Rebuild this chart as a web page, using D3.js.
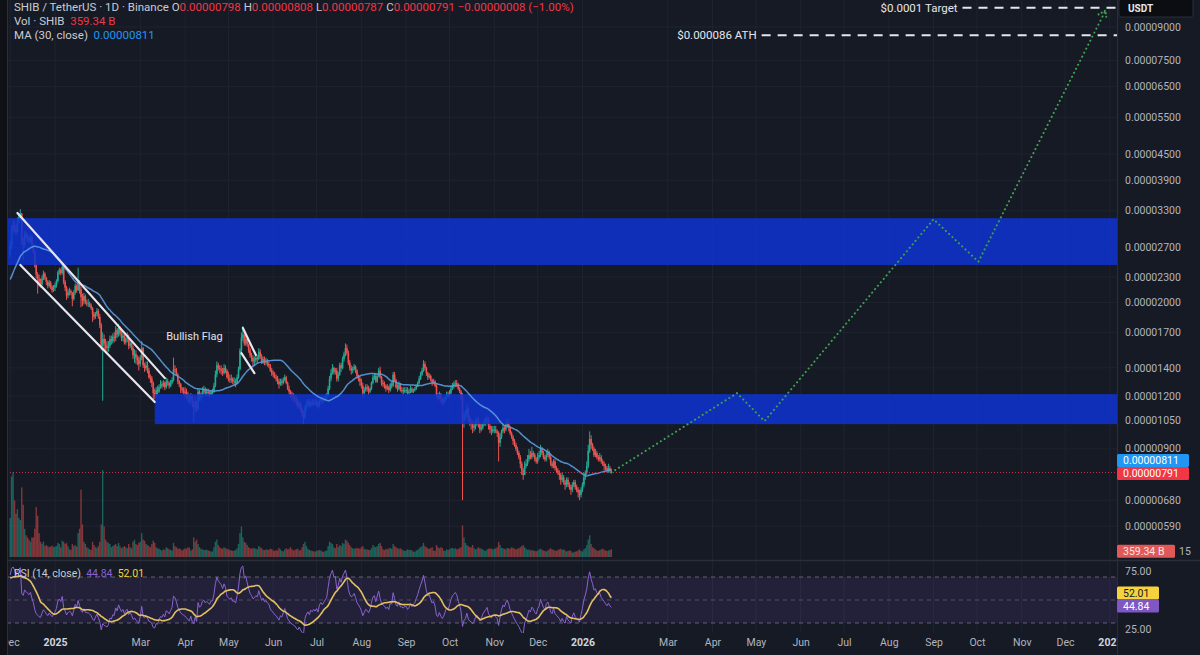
<!DOCTYPE html>
<html>
<head>
<meta charset="utf-8">
<script src="https://cdn.jsdelivr.net/npm/d3@7/dist/d3.min.js"></script>
<style>
html,body{margin:0;padding:0;background:#161a25;overflow:hidden;}
svg{display:block;font-family:Roboto,"Noto Sans",Arial,sans-serif;}
</style>
</head>
<body>
<svg id="chart" width="1200" height="655"></svg>
<script>
// ---------------- DATA (prices in units of 0.00000001 USDT, volume in billions) ----------------
const startDate = "2024-12-01";
// November 2024 closes (off-screen look-back for MA/RSI)
const warmupCloses = [1730,1700,1660,1640,1710,1860,1850,1900,2040,1980,2380,2550,2430,2380,2400,2420,2380,2360,2390,2420,2370,2450,2630,2560,2480,2390,2450,2440,2500,2600];

const closes = [
 2720,2980,3050,3010,2940,3120,3180,3250,2780,2740,2900,2870,2830,2800,2860,2740,2640,2450,2330,2280,2230,2210,2280,2340,2290,2240,2190,2230,2180,2140,2170,
 2200,2250,2360,2390,2350,2430,2240,2170,2080,2110,2130,2110,2040,2110,2190,2140,2240,2150,2060,2020,2070,2000,1990,1990,1970,1940,1880,1850,1880,1910,1850,
 1770,1580,1640,1600,1580,1560,1580,1640,1620,1660,1650,1720,1680,1740,1690,1650,1670,1610,1640,1650,1580,1600,1560,1500,1510,1480,1460,1430,
 1480,1560,1420,1400,1420,1380,1330,1320,1290,1220,1210,1240,1230,1260,1280,1270,1290,1260,1300,1290,1270,1290,1310,1390,1380,1350,1300,1280,1250,1240,1230,
 1220,1210,1190,1180,1200,1150,1130,1160,1120,1230,1190,1200,1230,1240,1220,1230,1220,1210,1230,1230,1270,1350,1420,1400,1390,1380,1360,1400,1380,1330,
 1320,1310,1320,1300,1300,1290,1330,1390,1540,1650,1680,1600,1640,1590,1540,1500,1480,1450,1460,1480,1470,1530,1490,1450,1470,1440,1450,1430,1420,1380,1360,
 1350,1330,1320,1300,1280,1300,1290,1310,1330,1290,1250,1230,1210,1200,1190,1180,1160,1140,1150,1120,1090,1070,1130,1150,1160,1140,1160,1150,1160,1150,
 1160,1140,1170,1180,1170,1180,1190,1200,1250,1320,1360,1400,1370,1380,1320,1350,1420,1400,1470,1510,1560,1520,1440,1400,1380,1390,1410,1380,1340,1320,1300,
 1270,1220,1240,1260,1250,1230,1250,1290,1330,1340,1300,1340,1380,1330,1290,1280,1270,1250,1260,1240,1280,1270,1350,1310,1260,1250,1280,1240,1240,1230,1240,
 1240,1220,1230,1250,1230,1240,1250,1270,1290,1320,1350,1380,1430,1400,1360,1330,1340,1310,1290,1300,1270,1200,1190,1210,1180,1160,1170,1190,1210,1200,
 1220,1250,1270,1280,1290,1280,1250,1230,1190,1050,1080,1090,1120,1060,1040,1030,1010,1020,1040,1050,1030,1000,1010,1030,1040,1050,1060,1020,1000,990,1000,
 1000,990,980,930,960,990,1010,1000,1020,1030,1010,980,960,940,920,900,880,860,830,800,780,820,830,850,870,860,880,870,850,840,
 860,870,900,880,860,850,870,880,860,830,820,840,810,800,790,780,760,770,750,740,760,740,730,720,740,750,730,720,710,700,720,
 740,770,790,820,890,950,920,900,870,880,860,850,860,840,830,820,810,800,810,798,791
];
const highs = [
 2800,3050,3150,3120,3060,3180,3260,3330,3260,2850,2960,2950,2910,2880,2900,2880,2760,2660,2480,2360,2330,2280,2320,2380,2360,2300,2260,2260,2250,2200,2200,
 2230,2270,2380,2420,2410,2470,2450,2260,2190,2150,2170,2150,2120,2140,2220,2210,2420,2260,2180,2100,2110,2090,2030,2040,2010,1990,1950,1900,1900,1940,1930,
 1880,1790,1700,1680,1640,1620,1620,1670,1670,1690,1700,1760,1740,1780,1760,1720,1700,1690,1660,1700,1680,1630,1620,1580,1550,1540,1500,1490,
 1500,1620,1570,1440,1450,1450,1400,1350,1340,1300,1250,1260,1270,1280,1310,1300,1310,1300,1330,1320,1300,1310,1330,1480,1420,1400,1360,1310,1290,1260,1260,
 1260,1250,1230,1210,1220,1210,1170,1200,1170,1250,1240,1220,1260,1270,1260,1250,1250,1240,1240,1250,1290,1380,1450,1440,1420,1420,1400,1430,1420,1390,
 1370,1350,1350,1330,1330,1320,1350,1410,1560,1700,1760,1700,1680,1660,1600,1560,1520,1500,1490,1510,1500,1560,1550,1510,1490,1490,1480,1470,1450,1430,1400,
 1380,1370,1350,1340,1320,1320,1320,1330,1350,1340,1300,1270,1240,1230,1220,1210,1200,1180,1170,1160,1130,1110,1140,1170,1180,1180,1170,1180,1180,1180,
 1180,1170,1180,1200,1190,1200,1210,1220,1270,1340,1390,1430,1410,1400,1400,1370,1440,1440,1490,1530,1600,1590,1540,1460,1420,1410,1430,1420,1390,1350,1340,
 1320,1290,1260,1280,1280,1270,1260,1300,1350,1360,1360,1350,1400,1410,1340,1310,1300,1280,1280,1270,1290,1300,1370,1370,1320,1280,1300,1290,1260,1260,1260,
 1260,1260,1250,1270,1260,1250,1260,1280,1300,1340,1370,1400,1460,1450,1410,1370,1360,1350,1320,1320,1310,1280,1220,1230,1220,1190,1190,1200,1230,1230,
 1240,1270,1290,1300,1310,1310,1290,1260,1240,1220,1100,1110,1150,1130,1080,1060,1050,1040,1060,1070,1070,1040,1030,1040,1060,1070,1080,1070,1030,1020,1020,
 1020,1020,1000,990,980,1000,1030,1020,1040,1060,1040,1020,990,970,950,930,910,890,870,840,810,840,850,870,900,890,910,890,880,860,
 880,890,920,910,890,870,890,900,890,870,840,850,850,820,810,800,790,790,780,760,770,770,750,740,750,760,760,740,730,720,730,
 750,790,800,840,920,990,970,930,910,900,890,870,880,870,850,840,830,820,830,820,808
];
const lows = [
 2560,2680,2920,2930,2880,2920,3080,3130,2740,2520,2700,2830,2780,2760,2770,2720,2610,2420,2280,2100,2180,2170,2190,2260,2260,2200,2160,2170,2150,2110,2120,
 2130,2170,2230,2330,2320,2330,2210,2130,2030,2050,2080,2080,1960,2020,2090,2110,2130,2100,1950,1960,1980,1980,1960,1950,1950,1920,1800,1820,1830,1860,1830,
 1740,1540,1170,1540,1540,1520,1530,1560,1590,1600,1610,1620,1650,1660,1670,1620,1620,1590,1590,1610,1550,1560,1540,1470,1440,1430,1420,1380,
 1410,1460,1400,1370,1380,1360,1320,1290,1260,1170,1180,1190,1210,1220,1250,1250,1260,1240,1250,1270,1250,1260,1280,1300,1360,1340,1280,1260,1220,1220,1210,
 1190,1180,1160,1150,1160,1130,1040,1100,1100,1110,1170,1170,1190,1210,1200,1200,1200,1190,1200,1210,1220,1260,1330,1380,1360,1350,1340,1350,1360,1320,
 1300,1290,1290,1280,1270,1260,1280,1320,1380,1520,1620,1580,1580,1570,1520,1480,1450,1410,1420,1440,1440,1460,1470,1430,1430,1420,1420,1410,1400,1370,1340,
 1330,1320,1300,1280,1250,1270,1270,1280,1300,1280,1240,1210,1190,1170,1170,1160,1140,1120,1120,1100,1070,1030,1060,1110,1130,1130,1130,1140,1140,1140,
 1130,1120,1130,1160,1150,1160,1170,1180,1200,1240,1300,1350,1350,1350,1300,1300,1340,1370,1390,1450,1490,1500,1420,1380,1350,1360,1380,1360,1320,1300,1270,
 1250,1190,1210,1230,1230,1210,1220,1240,1280,1310,1290,1290,1330,1320,1270,1260,1250,1230,1240,1220,1230,1250,1260,1300,1250,1230,1240,1230,1220,1210,1220,
 1220,1210,1210,1220,1220,1220,1230,1240,1260,1280,1310,1340,1370,1380,1340,1310,1320,1300,1270,1280,1260,1190,1170,1180,1160,1140,1150,1160,1180,1190,
 1190,1210,1240,1250,1260,1260,1240,1220,1170,680,1010,1050,1070,1040,1020,1000,980,990,1000,1020,1010,980,990,1000,1020,1020,1030,1000,980,970,980,
 980,980,960,840,910,950,980,980,990,1010,990,970,950,920,910,890,870,850,810,780,760,780,810,820,840,850,850,860,840,830,
 830,850,860,870,850,840,840,860,850,820,810,810,800,790,780,760,740,750,740,720,730,730,720,700,710,730,720,710,690,680,690,
 710,730,760,780,810,880,900,890,860,860,850,840,840,830,820,800,800,790,790,790,787
];
const volumes = [
 1800,3700,3900,2600,2000,2200,1800,1700,3200,2400,1300,1000,900,800,700,900,900,1300,2300,1900,1100,700,600,700,500,550,500,450,480,520,450,
 480,500,650,600,450,750,700,600,650,500,350,330,600,500,550,480,1100,1300,3100,1500,700,600,450,400,350,330,700,550,450,420,500,
 700,1500,4000,1400,800,700,650,600,450,500,550,600,500,650,500,400,450,500,450,400,600,450,400,700,800,600,550,650,
 700,1100,800,750,600,550,500,450,600,750,650,450,400,380,330,300,350,330,450,400,350,330,300,650,500,450,380,400,350,300,350,
 400,380,450,420,300,350,900,700,800,600,450,380,350,330,320,340,300,280,250,260,450,700,800,550,450,400,380,450,400,380,
 350,330,300,280,300,320,400,600,1100,1400,900,700,650,550,450,400,380,420,400,380,350,500,450,400,330,320,350,330,330,380,360,
 300,280,320,300,420,350,280,260,350,400,350,380,450,350,300,330,360,380,300,320,450,600,700,500,380,330,300,280,260,250,
 280,300,320,300,250,240,280,300,500,700,650,600,450,400,600,450,550,500,650,600,800,750,650,550,450,400,380,400,420,400,380,
 450,500,380,350,350,330,320,400,550,480,450,500,600,650,500,350,320,380,350,400,420,380,600,500,450,400,380,400,350,300,280,
 300,350,320,330,300,250,240,300,330,400,450,500,650,500,450,400,380,400,450,300,280,550,450,400,450,420,300,280,350,330,
 350,400,420,380,400,350,380,400,450,1450,900,650,550,500,450,450,550,400,350,380,450,400,380,350,300,280,350,380,400,380,350,
 380,400,450,700,550,420,400,380,350,420,400,380,450,420,380,350,380,400,450,500,550,450,380,330,350,300,320,300,280,260,
 300,350,380,330,300,280,260,300,350,400,350,330,300,280,330,350,380,330,350,300,250,280,300,280,200,220,250,260,300,350,280,
 250,350,400,550,800,1000,600,450,400,350,300,280,320,350,380,330,300,280,300,320,359.34
];

const priceTicks = [9000,7500,6500,5500,4500,3900,3300,2700,2300,2000,1700,1400,1200,1050,900,680,590];
const monthTicks = ["2024-12-01","2025-01-01","2025-03-01","2025-04-01","2025-05-01","2025-06-01","2025-07-01","2025-08-01","2025-09-01","2025-10-01","2025-11-01","2025-12-01","2026-01-01","2026-03-01","2026-04-01","2026-05-01","2026-06-01","2026-07-01","2026-08-01","2026-09-01","2026-10-01","2026-11-01","2026-12-01","2027-01-01"];
const rsiTicks = [75, 25];
const rsiLevels = [70, 50, 30];

// drawings (date, price)
const zoneStart = ["2024-11-20","2025-03-11"];
const zoneLow = [2455, 1030];
const zoneHigh = [3170, 1213];
const trendLines = [
  ["2024-12-06",3261,"2025-03-18",1324],
  ["2024-12-08",2455,"2025-03-11",1162],
  ["2025-05-11",1741,"2025-05-20",1502],
  ["2025-05-10",1518,"2025-05-19",1361]
];
const projDates = ["2026-01-21","2026-04-18","2026-05-07","2026-09-01","2026-10-02","2026-12-29"];
const projPrices = [791,1220,1047,3150,2500,9850];
const levelPrices = [10000, 8600];
const levelLabels = ["$0.0001 Target", "$0.000086 ATH"];
const levelStarts = ["2026-09-21", "2026-05-05"];
const noteText = "Bullish Flag", noteDate = "2025-03-19", notePrice = 1630;
const lastVolume = 359.34, lastMA = 811, lastClose = 791, lastRsi = 44.84, lastRsiMA = 52.01;

// ---------------- DRAW ----------------
const svg = d3.select("#chart");
const BG = "#161a25", GRID = "#1f2330", TXT = "#b2b5be", HEAD = "#c9ccd4";
const UP = "#22ab94", DN = "#ef5350", RED = "#f23645", BLUE = "#2196f3";
const L = 7, R = 1117, PB = 560, RT = 561, RB = 633;

svg.append("rect").attr("width", 1200).attr("height", 655).attr("fill", BG);

const parse = d3.utcParse("%Y-%m-%d");
const t0 = parse(startDate);
const dateAt = i => new Date(t0.getTime() + i * 864e5);

const x = d3.scaleUtc().domain([parse("2025-01-01"), parse("2027-01-01")]).range([55, 1109.9]);
const y = d3.scaleLog().domain([590, 9000]).range([526.2, 27]);
const yVol = d3.scaleLinear().domain([0, 4600]).range([557, 457]);
const yRsi = d3.scaleLinear().domain([30, 70]).range([623, 577]);

const defs = svg.append("defs");
defs.append("clipPath").attr("id", "clipP").append("rect").attr("x", L).attr("y", 0).attr("width", R - L).attr("height", PB);
defs.append("clipPath").attr("id", "clipR").append("rect").attr("x", L).attr("y", RT).attr("width", R - L).attr("height", RB - RT);
defs.append("clipPath").attr("id", "clipT").append("rect").attr("x", L + 1).attr("y", RB).attr("width", R - L - 1).attr("height", 655 - RB);

const candles = closes.map((c, i) => ({
  date: dateAt(i),
  open: i === 0 ? warmupCloses[warmupCloses.length - 1] : closes[i - 1],
  high: highs[i], low: lows[i], close: c, vol: volumes[i]
}));
const col = d => d.close >= d.open ? UP : DN;

// grid
const monthDates = monthTicks.map(parse);
const grid = svg.append("g").attr("clip-path", "url(#clipP)");
grid.selectAll("line.gv").data(monthDates).join("line").attr("class", "gv")
  .attr("x1", d => x(d)).attr("x2", d => x(d)).attr("y1", 0).attr("y2", PB).attr("stroke", GRID);
grid.selectAll("line.gh").data(priceTicks).join("line").attr("class", "gh")
  .attr("x1", L).attr("x2", R).attr("y1", d => y(d)).attr("y2", d => y(d)).attr("stroke", GRID);
const gridR = svg.append("g").attr("clip-path", "url(#clipR)");
gridR.selectAll("line").data(monthDates).join("line")
  .attr("x1", d => x(d)).attr("x2", d => x(d)).attr("y1", RT).attr("y2", RB).attr("stroke", GRID);

// price pane
const gP = svg.append("g").attr("clip-path", "url(#clipP)");
gP.selectAll("rect.vol").data(candles).join("rect").attr("class", "vol")
  .attr("x", d => x(d.date) - 0.7).attr("width", 1.4)
  .attr("y", d => yVol(d.vol)).attr("height", d => yVol(0) - yVol(d.vol))
  .attr("fill", col).attr("opacity", 0.5);
gP.selectAll("line.wick").data(candles).join("line").attr("class", "wick")
  .attr("x1", d => x(d.date)).attr("x2", d => x(d.date))
  .attr("y1", d => y(d.high)).attr("y2", d => y(d.low))
  .attr("stroke", col).attr("stroke-width", 1);
gP.selectAll("rect.body").data(candles).join("rect").attr("class", "body")
  .attr("x", d => x(d.date) - 0.8).attr("width", 1.6)
  .attr("y", d => y(Math.max(d.open, d.close)))
  .attr("height", d => Math.max(0.8, Math.abs(y(d.open) - y(d.close))))
  .attr("fill", col);

// zones
gP.selectAll("rect.zone").data(zoneStart).join("rect").attr("class", "zone")
  .attr("x", d => x(parse(d))).attr("width", d => R + 10 - x(parse(d)))
  .attr("y", (d, i) => y(zoneHigh[i])).attr("height", (d, i) => y(zoneLow[i]) - y(zoneHigh[i]))
  .attr("fill", "#0f33d2").attr("opacity", 0.86);

// MA 30
const full = warmupCloses.concat(closes);
const W0 = warmupCloses.length;
const ma = closes.map((c, i) => d3.mean(full.slice(W0 + i - 29, W0 + i + 1)));
gP.append("path").datum(ma)
  .attr("d", d3.line().x((d, i) => x(dateAt(i))).y(d => y(d)).curve(d3.curveMonotoneX))
  .attr("fill", "none").attr("stroke", "#5b9be0").attr("stroke-width", 1.5).attr("opacity", 0.9);

// last price line
gP.append("line").attr("x1", L).attr("x2", R).attr("y1", y(lastClose)).attr("y2", y(lastClose))
  .attr("stroke", RED).attr("stroke-width", 1).attr("stroke-dasharray", "1,2").attr("opacity", 0.8);

// trend lines
gP.selectAll("line.trend").data(trendLines).join("line").attr("class", "trend")
  .attr("x1", d => x(parse(d[0]))).attr("y1", d => y(d[1]))
  .attr("x2", d => x(parse(d[2]))).attr("y2", d => y(d[3]))
  .attr("stroke", "#e8e4ec").attr("stroke-width", 2.2).attr("stroke-linecap", "round");

// note
gP.append("text").attr("x", x(parse(noteDate))).attr("y", y(notePrice))
  .attr("fill", "#e0e3eb").attr("font-size", 11).text(noteText);

// projection
const proj = projDates.map((d, i) => [x(parse(d)), y(projPrices[i])]);
gP.append("path").attr("d", d3.line()(proj))
  .attr("fill", "none").attr("stroke", "#3fa34d").attr("stroke-width", 2)
  .attr("stroke-dasharray", "0.1,4.4").attr("stroke-linecap", "round");
const pe = proj[proj.length - 1];
gP.append("path").attr("d", d3.line()([[pe[0] - 7, pe[1] + 4], pe, [pe[0] + 1, pe[1] + 9]]))
  .attr("fill", "none").attr("stroke", "#3fa34d").attr("stroke-width", 2)
  .attr("stroke-dasharray", "0.1,3.5").attr("stroke-linecap", "round");

// levels
levelPrices.forEach((p, i) => {
  const xs = x(parse(levelStarts[i]));
  gP.append("line").attr("x1", xs).attr("x2", R).attr("y1", y(p)).attr("y2", y(p))
    .attr("stroke", "#e6e6ea").attr("stroke-width", 2).attr("stroke-dasharray", "9,7");
  gP.append("text").attr("x", xs - 5).attr("y", y(p)).attr("dy", "0.36em").attr("text-anchor", "end")
    .attr("fill", "#e6e6ea").attr("font-size", 11.5).text(levelLabels[i]);
});

// RSI
let aG = 0, aL = 0; const rsiFull = [];
for (let k = 1; k < full.length; k++) {
  const ch = full[k] - full[k - 1], g = Math.max(ch, 0), l = Math.max(-ch, 0);
  if (k <= 14) { aG += g / 14; aL += l / 14; if (k === 14) rsiFull[k] = 100 - 100 / (1 + aG / aL); }
  else { aG = (aG * 13 + g) / 14; aL = (aL * 13 + l) / 14; rsiFull[k] = aL === 0 ? 100 : 100 - 100 / (1 + aG / aL); }
}
const rsi = closes.map((c, i) => rsiFull[W0 + i]);
const rsiMA = closes.map((c, i) => d3.mean(rsiFull.slice(W0 + i - 13, W0 + i + 1)));
const gR = svg.append("g").attr("clip-path", "url(#clipR)");
gR.append("rect").attr("x", L).attr("width", R - L).attr("y", yRsi(70)).attr("height", yRsi(30) - yRsi(70))
  .attr("fill", "#7e57c2").attr("opacity", 0.13);
gR.selectAll("line.lvl").data(rsiLevels).join("line").attr("class", "lvl")
  .attr("x1", L).attr("x2", R).attr("y1", d => yRsi(d)).attr("y2", d => yRsi(d))
  .attr("stroke", "#6a6d78").attr("stroke-dasharray", "4,4").attr("opacity", d => d === 50 ? 0.6 : 0.9);
const lineR = d3.line().x((d, i) => x(dateAt(i))).y(d => yRsi(d));
gR.append("path").datum(rsi).attr("d", lineR).attr("fill", "none").attr("stroke", "#8a63d2").attr("stroke-width", 1);
gR.append("path").datum(rsiMA).attr("d", lineR.curve(d3.curveMonotoneX)).attr("fill", "none").attr("stroke", "#e2c062").attr("stroke-width", 1.6);

// separators
svg.append("rect").attr("x", 0).attr("y", 0).attr("width", L).attr("height", 655).attr("fill", "#0f1117");
svg.append("line").attr("x1", L + 0.5).attr("x2", L + 0.5).attr("y1", 0).attr("y2", 655).attr("stroke", "#2a2e39");
svg.append("line").attr("x1", L).attr("x2", 1200).attr("y1", PB + 0.5).attr("y2", PB + 0.5).attr("stroke", "#2a2e39").attr("stroke-width", 1.5);
svg.append("line").attr("x1", R + 0.5).attr("x2", R + 0.5).attr("y1", 0).attr("y2", 655).attr("stroke", "#2a2e39");

// axes
const yAxis = d3.axisRight(y).tickValues(priceTicks).tickFormat(v => (v * 1e-8).toFixed(8)).tickSize(0).tickPadding(0);
const gYA = svg.append("g").attr("transform", "translate(1125,0)").call(yAxis);
gYA.select(".domain").remove();
gYA.selectAll("text").attr("fill", TXT).attr("font-size", 10.5).attr("font-family", "Roboto, sans-serif").attr("dy", "0.3em");

const rAxis = d3.axisRight(yRsi).tickValues(rsiTicks).tickFormat(d3.format(".2f")).tickSize(0).tickPadding(0);
const gRA = svg.append("g").attr("transform", "translate(1125,0)").call(rAxis);
gRA.select(".domain").remove();
gRA.selectAll("text").attr("fill", TXT).attr("font-size", 10.5).attr("font-family", "Roboto, sans-serif");

const xAxis = d3.axisBottom(x).tickValues(monthDates)
  .tickFormat(d => d.getUTCMonth() === 0 ? String(d.getUTCFullYear()) : d3.utcFormat("%b")(d))
  .tickSize(0).tickPadding(0);
const gXA = svg.append("g").attr("clip-path", "url(#clipT)").append("g").attr("transform", "translate(0,639)").call(xAxis);
gXA.select(".domain").remove();
gXA.selectAll("text").attr("font-size", 10.5).attr("font-family", "Roboto, sans-serif")
  .attr("fill", d => d.getUTCMonth() === 0 ? "#d1d4dc" : TXT)
  .attr("font-weight", d => d.getUTCMonth() === 0 ? "bold" : "normal");

// value boxes on the right axis
function box(cy, w, fill, txt, tcol) {
  svg.append("rect").attr("x", 1117).attr("y", cy - 6.5).attr("width", w).attr("height", 13).attr("rx", 1.5).attr("fill", fill);
  svg.append("text").attr("x", 1123).attr("y", cy).attr("dy", "0.36em").attr("fill", tcol)
    .attr("font-size", 10.5).text(txt);
}
const yC = y(lastClose) + 1;
box(yC - 13, 72, BLUE, (lastMA * 1e-8).toFixed(8), "#ffffff");
box(yC, 72, RED, (lastClose * 1e-8).toFixed(8), "#ffffff");
box(yVol(lastVolume) + 2, 58, "#e05858", lastVolume.toFixed(2) + " B", "#ffe3e3");
svg.append("text").attr("x", 1179).attr("y", yVol(lastVolume) + 2).attr("dy", "0.36em").attr("fill", TXT).attr("font-size", 10.5).text("15");
const yR1 = yRsi(lastRsi);
box(yR1 - 13, 42, "#f5d33d", lastRsiMA.toFixed(2), "#131722");
box(yR1, 42, "#7e57c2", lastRsi.toFixed(2), "#ffffff");

// USDT box
svg.append("rect").attr("x", 1119).attr("y", -1).attr("width", 74).attr("height", 18).attr("rx", 2).attr("fill", "#0c0d12").attr("stroke", "#2a2e39");
svg.append("text").attr("x", 1128).attr("y", 8.5).attr("dy", "0.36em").attr("fill", "#e6e7ea").attr("font-size", 10).attr("font-weight", "bold").text("USDT");

// legends
function legend(yb, fs, parts) {
  const t = svg.append("text").attr("x", 14).attr("y", yb).attr("font-size", fs).style("white-space", "pre");
  parts.forEach(p => t.append("tspan").attr("fill", p[1]).text(p[0]));
}
legend(11, 11.5, [["SHIB / TetherUS · 1D · Binance ", HEAD], ["O", HEAD], ["0.00000798", RED], [" H", HEAD], ["0.00000808", RED],
  [" L", HEAD], ["0.00000787", RED], [" C", HEAD], ["0.00000791", RED], [" −0.00000008 (−1.00%)", RED]]);
legend(25, 11.5, [["Vol · SHIB  ", HEAD], ["359.34 B", RED]]);
legend(38.5, 11.5, [["MA (30, close)  ", HEAD], ["0.00000811", BLUE]]);
legend(577, 10.5, [["RSI (14, close)  ", HEAD], ["44.84", "#8a63d2"], ["  ", HEAD], ["52.01", "#f5d33d"]]);
</script>
</body>
</html>
